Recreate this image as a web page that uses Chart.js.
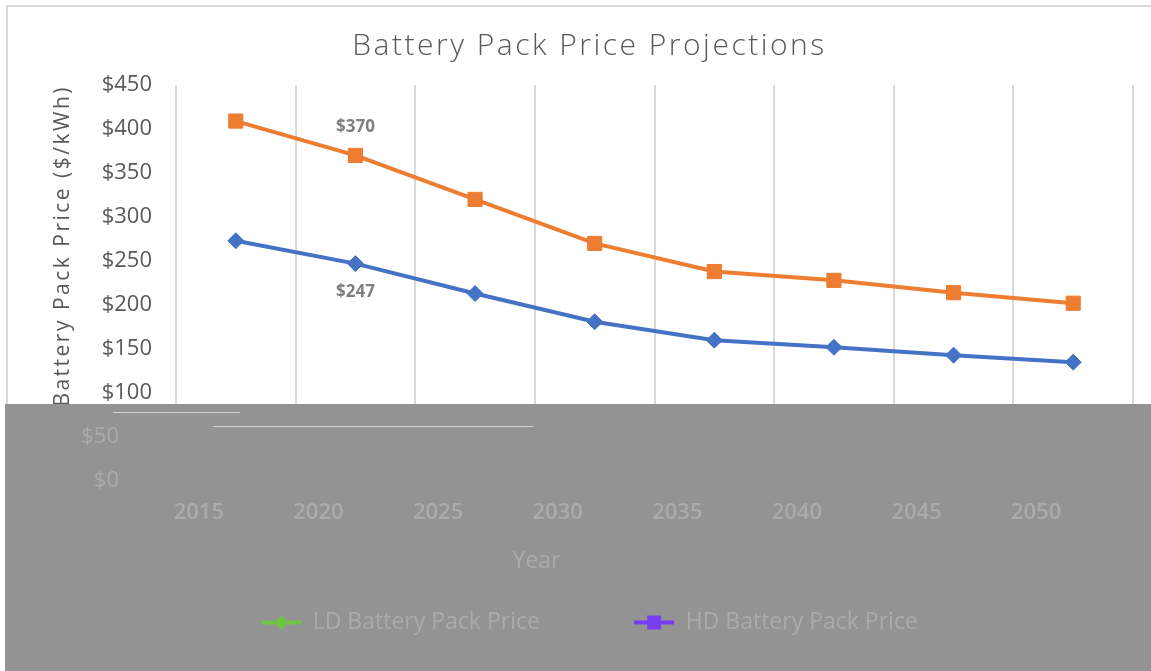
<!DOCTYPE html>
<html>
<head>
<meta charset="utf-8">
<script src="https://cdn.jsdelivr.net/npm/chart.js@4.4.1/dist/chart.umd.min.js"></script>
<style>
    body { margin: 0; background: #fff; }
    #wrap { width: 1151px; height: 671px; position: relative; }
</style>
</head>
<body>
<div id="wrap"><canvas id="battery-chart"></canvas></div>
<script>
var years = ['2015', '2020', '2025', '2030', '2035', '2040', '2045', '2050'];
var ldPrice = [273, 247, 213, 181, 160, 152, 143, 135];
var hdPrice = [409, 370, 320, 270, 238, 228, 214, 202];
var seriesNames = ['LD Battery Pack Price', 'HD Battery Pack Price'];
var legendColors = ['#6cc644', '#7a3cf0'];
var calloutIndex = 1; // only 2020 carries a value label

var grayTop = 404; // lower part of the source picture is greyed out
var fadedText = '#ababab';

function legendMarker(color, shape) {
    var c = document.createElement('canvas');
    c.width = 40;
    c.height = 16;
    var g = c.getContext('2d');
    g.strokeStyle = color;
    g.lineWidth = 4;
    g.beginPath();
    g.moveTo(0, 8);
    g.lineTo(40, 8);
    g.stroke();
    g.fillStyle = color;
    if (shape == 'diamond') {
        g.beginPath();
        g.moveTo(20, 1); g.lineTo(27, 8); g.lineTo(20, 15); g.lineTo(13, 8);
        g.closePath();
        g.fill();
    } else {
        g.fillRect(13, 1, 14, 14);
    }
    return c;
}
var markers = [legendMarker(legendColors[0], 'diamond'), legendMarker(legendColors[1], 'square')];

var sheetPlugin = {
    id: 'sheet',
    beforeDraw: function(chart) {
        var ctx = chart.ctx;
        ctx.save();
        ctx.fillStyle = '#fff';
        ctx.fillRect(0, 0, chart.width, chart.height);
        ctx.strokeStyle = '#d9d9d9';
        ctx.lineWidth = 2;
        ctx.beginPath();
        ctx.moveTo(7, chart.height);
        ctx.lineTo(7, 6);
        ctx.lineTo(chart.width, 6);
        ctx.stroke();
        ctx.restore();
        // title and y title are spaced out like the original
        ctx.letterSpacing = '2.5px';
    },
    beforeDatasetsDraw: function(chart) {
        var ctx = chart.ctx;
        ctx.letterSpacing = '0px';
        ctx.save();
        ctx.fillStyle = '#939393';
        ctx.fillRect(5, grayTop, chart.width - 5, chart.height - grayTop);
        // leftover rules from the pasted block
        ctx.strokeStyle = '#d4d4d4';
        ctx.lineWidth = 1;
        ctx.beginPath();
        ctx.moveTo(113, 412.5); ctx.lineTo(240, 412.5);
        ctx.moveTo(213, 426.5); ctx.lineTo(533, 426.5);
        ctx.stroke();
        ctx.restore();
        // legend and x title sit on the grey block, so paint them again
        chart.legend.draw();
        ctx.save();
        ctx.translate(-118, 0);
        chart.scales.x.drawTitle();
        ctx.restore();
    },
    afterDatasetsDraw: function(chart) {
        var ctx = chart.ctx;
        var ld = chart.getDatasetMeta(0).data[calloutIndex];
        var hd = chart.getDatasetMeta(1).data[calloutIndex];
        ctx.save();
        ctx.font = 'bold 17px "Open Sans"';
        ctx.fillStyle = '#7f7f7f';
        ctx.textAlign = 'center';
        ctx.textBaseline = 'middle';
        ctx.fillText('$' + hdPrice[calloutIndex], hd.x, hd.y - 28);
        ctx.fillText('$' + ldPrice[calloutIndex], ld.x, ld.y + 29);
        ctx.restore();
    }
};

var batteryChart = new Chart(document.getElementById('battery-chart'), {
    type: 'line',
    data: {
        labels: years,
        datasets: [{
            label: seriesNames[0],
            data: ldPrice,
            borderColor: '#4472c4',
            backgroundColor: '#4472c4',
            borderWidth: 4,
            pointStyle: 'rectRot',
            pointRadius: 8,
            pointBorderWidth: 1,
            tension: 0
        }, {
            label: seriesNames[1],
            data: hdPrice,
            borderColor: '#ed7d31',
            backgroundColor: '#ed7d31',
            borderWidth: 4,
            pointStyle: 'rect',
            pointRadius: 10,
            pointBorderWidth: 1,
            tension: 0
        }]
    },
    options: {
        responsive: true,
        maintainAspectRatio: false,
        animation: false,
        layout: { padding: { left: 46, right: 18, top: 0, bottom: 27 } },
        plugins: {
            title: {
                display: true,
                text: 'Battery Pack Price Projections',
                color: '#595959',
                font: { family: 'Open Sans', size: 30, weight: '300' },
                padding: { top: 28, bottom: 21 }
            },
            legend: {
                position: 'bottom',
                labels: {
                    usePointStyle: true,
                    pointStyleWidth: 40,
                    padding: 10,
                    color: fadedText,
                    font: { family: 'Open Sans', size: 23 },
                    generateLabels: function(chart) {
                        return chart.data.datasets.map(function(ds, i) {
                            return {
                                text: i == 0 ? ds.label + '\u2003\u2003\u2003\u2002\u2009' : ds.label,
                                pointStyle: markers[i],
                                fontColor: fadedText,
                                fillStyle: 'transparent',
                                strokeStyle: 'transparent',
                                lineWidth: 0,
                                datasetIndex: i
                            };
                        });
                    }
                }
            },
            tooltip: { enabled: false }
        },
        scales: {
            x: {
                offset: true,
                grid: { display: true, offset: true, color: '#d9d9d9', lineWidth: 2, drawTicks: false },
                border: { display: false },
                ticks: {
                    z: 1,
                    color: fadedText,
                    padding: 19,
                    labelOffset: -37,
                    font: { family: 'Open Sans', size: 22, weight: '600' }
                },
                title: {
                    display: true,
                    text: 'Year',
                    color: fadedText,
                    font: { family: 'Open Sans', size: 23 },
                    padding: { top: 10, bottom: 26 }
                },
                afterFit: function(scale) { scale.height = 120; }
            },
            y: {
                min: 0,
                max: 450,
                grid: { display: false, drawTicks: false },
                border: { display: false },
                ticks: {
                    z: 1,
                    stepSize: 50,
                    padding: 24,
                    font: { family: 'Open Sans', size: 22 },
                    color: function(c) { return c.tick.value < 100 ? fadedText : '#595959'; },
                    callback: function(v) { return v < 100 ? '$' + v + '\u2003\u2002' : '$' + v; }
                },
                title: {
                    display: true,
                    text: 'Battery Pack Price ($/kWh)',
                    align: 'end',
                    color: '#595959',
                    font: { family: 'Open Sans', size: 21 },
                    padding: { top: 4, bottom: 0 }
                },
                afterFit: function(scale) { scale.width = 130; }
            }
        }
    },
    plugins: [sheetPlugin]
});
</script>
</body>
</html>
